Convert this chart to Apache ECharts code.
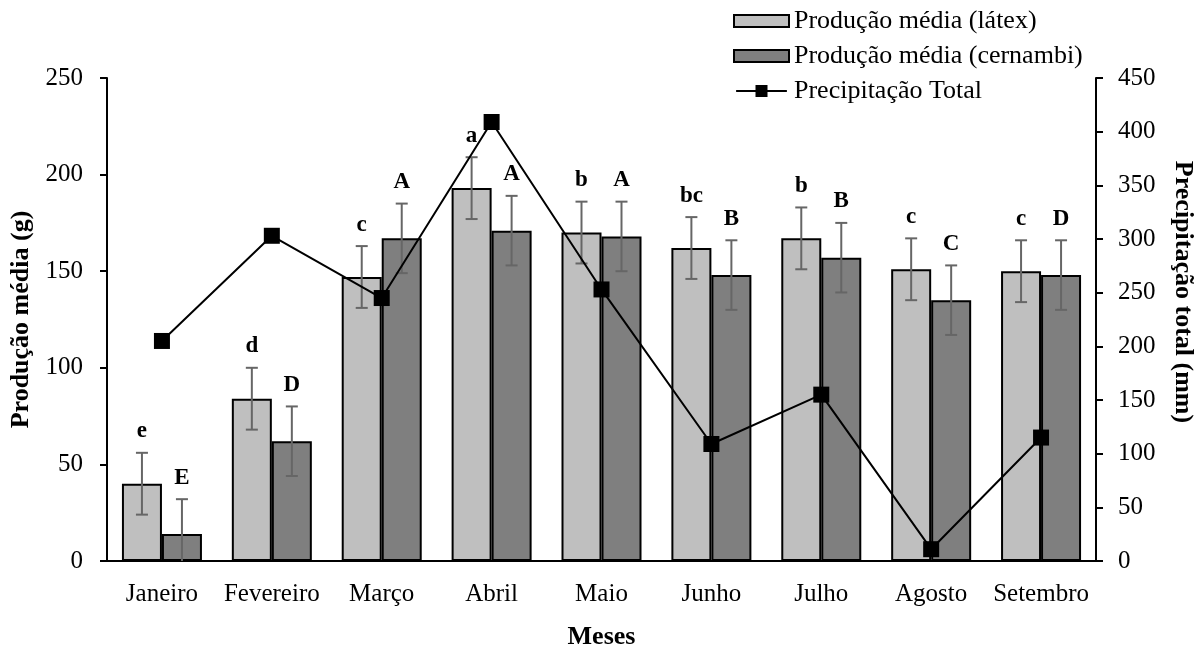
<!DOCTYPE html>
<html><head><meta charset="utf-8">
<script src="https://cdn.jsdelivr.net/npm/echarts@6/dist/echarts.min.js"></script>
<style>html,body{margin:0;padding:0;background:#fff}#c{width:1202px;height:650px}</style>
</head><body><div id="c"></div>
<script>
const months = ['Janeiro','Fevereiro','Março','Abril','Maio','Junho','Julho','Agosto','Setembro'];
const latex = [40,84,147,193,170,162,167,151,150];
const latexErr = [16,16,16,16,16,16,16,16,16];
const cernambi = [14,62,167,171,168,148,157,135,148];
const cernambiErr = [18,18,18,18,18,18,18,18,18];
const precip = [205,303,245,409,253,109,155,11,115];
const latexLetters = ['e','d','c','a','b','bc','b','c','c'];
const cernambiLetters = ['E','D','A','A','A','B','B','C','D'];

const FONT = '"Liberation Serif", "Times New Roman", serif';
const BAR_W = 40;

function errSeries(vals, errs, letters, side) {
  return {
    type: 'custom', yAxisIndex: 0, clip: true, z: 5, silent: true,
    data: vals.map((v, i) => [i, v - errs[i], v + errs[i]]),
    renderItem(params, api) {
      const i = api.value(0);
      const lo = api.coord([i, api.value(1)]);
      const hi = api.coord([i, api.value(2)]);
      const x = lo[0] + side * BAR_W / 2;
      const cap = 6;
      const st = { stroke: '#666', lineWidth: 2 };
      return { type: 'group', children: [
        { type: 'line', shape: { x1: x, y1: lo[1], x2: x, y2: hi[1] }, style: st },
        { type: 'line', shape: { x1: x - cap, y1: lo[1], x2: x + cap, y2: lo[1] }, style: st },
        { type: 'line', shape: { x1: x - cap, y1: hi[1], x2: x + cap, y2: hi[1] }, style: st },
        { type: 'text', x: x, y: hi[1] - 10, style: { text: letters[params.dataIndex], fill: '#000',
          font: 'bold 23px ' + FONT, align: 'center', verticalAlign: 'bottom' } }
      ]};
    }
  };
}

const chart = echarts.init(document.getElementById('c'), null, { renderer: 'canvas' });
chart.setOption({
  backgroundColor: '#fff',
  animation: false,
  grid: { left: 107, right: 106, top: 78, bottom: 89, outerBoundsMode: 'none' },
  legend: {
    data: [
      { name: 'Produção média (látex)', icon: 'rect' },
      { name: 'Produção média (cernambi)', icon: 'rect' },
      { name: 'Precipitação Total', icon: 'path://M0,5H55V7H0Z M21,-0.5H34V12.5H21Z' }
    ],
    orient: 'vertical', left: 733, top: 8, padding: 0, itemWidth: 55, itemHeight: 12, itemGap: 9,
    textStyle: { fontFamily: FONT, fontSize: 26, color: '#000' }
  },
  xAxis: {
    type: 'category', data: months,
    axisLine: { lineStyle: { color: '#000', width: 2 } },
    axisTick: { show: false },
    axisLabel: { color: '#000', fontSize: 25, fontFamily: FONT, margin: 21, interval: 0, hideOverlap: false },
    name: 'Meses', nameLocation: 'middle', nameGap: 63,
    nameTextStyle: { color: '#000', fontSize: 26, fontWeight: 'bold', fontFamily: FONT }
  },
  yAxis: [
    {
      type: 'value', min: 0, max: 250, interval: 50,
      axisLine: { show: true, lineStyle: { color: '#000', width: 2 } },
      axisTick: { show: true, inside: false, length: 7, lineStyle: { color: '#000', width: 2 } },
      splitLine: { show: false },
      axisLabel: { color: '#000', fontSize: 25, fontFamily: FONT, margin: 24 },
      name: 'Produção média (g)', nameLocation: 'middle', nameRotate: 90, nameGap: 63,
      nameTextStyle: { color: '#000', fontSize: 26, fontWeight: 'bold', fontFamily: FONT }
    },
    {
      type: 'value', min: 0, max: 450, interval: 50, position: 'right',
      axisLine: { show: true, lineStyle: { color: '#000', width: 2 } },
      axisTick: { show: true, inside: false, length: 7, lineStyle: { color: '#000', width: 2 } },
      splitLine: { show: false },
      axisLabel: { color: '#000', fontSize: 25, fontFamily: FONT, margin: 22 }
    }
  ],
  graphic: [{
    type: 'text', x: 1183, y: 292, rotation: -Math.PI / 2,
    style: { text: 'Precipitação total (mm)', fill: '#000', font: 'bold 26px ' + FONT,
      align: 'center', verticalAlign: 'middle' }
  }],
  series: [
    { name: 'Produção média (látex)', type: 'bar', data: latex, barWidth: BAR_W, barGap: '0%',
      itemStyle: { color: '#bfbfbf', borderColor: '#000', borderWidth: 2 } },
    { name: 'Produção média (cernambi)', type: 'bar', data: cernambi, barWidth: BAR_W, barGap: '0%',
      itemStyle: { color: '#7f7f7f', borderColor: '#000', borderWidth: 2 } },
    errSeries(latex, latexErr, latexLetters, -1),
    errSeries(cernambi, cernambiErr, cernambiLetters, 1),
    { name: 'Precipitação Total', type: 'line', yAxisIndex: 1, data: precip, z: 10,
      symbol: 'rect', symbolSize: 16, itemStyle: { color: '#000' },
      lineStyle: { color: '#000', width: 2 } }
  ]
});
</script>
</body></html>
